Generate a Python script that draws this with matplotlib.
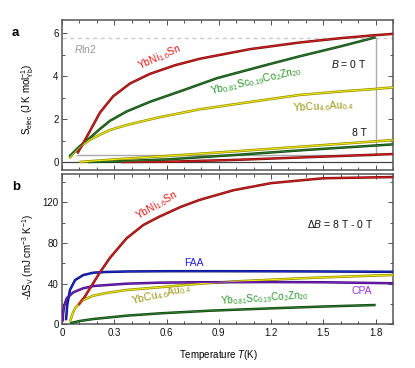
import matplotlib
matplotlib.use("Agg")
import matplotlib.pyplot as plt
from matplotlib.ticker import MultipleLocator, FuncFormatter

plt.rcParams['font.family'] = ['Liberation Sans', 'DejaVu Sans']
plt.rcParams['mathtext.fontset'] = 'custom'
plt.rcParams['mathtext.rm'] = 'Liberation Sans'
plt.rcParams['mathtext.it'] = 'Liberation Sans:italic'
plt.rcParams['mathtext.bf'] = 'Liberation Sans:bold'

# --- panel a: electronic entropy, B = 0 T ---
t_ni_0 = [0.088, 0.12, 0.161, 0.218, 0.293, 0.39, 0.505, 0.649, 0.79, 1.08, 1.366, 1.6, 1.8, 1.9]
s_ni_0 = [0.40, 0.85, 1.45, 2.3, 3.05, 3.65, 4.1, 4.5, 4.8, 5.25, 5.56, 5.76, 5.9, 5.96]
t_sc_0 = [0.042, 0.07, 0.10, 0.157, 0.22, 0.276, 0.371, 0.505, 0.70, 0.89, 1.19, 1.366, 1.6, 1.8]
s_sc_0 = [0.25, 0.48, 0.72, 1.1, 1.55, 1.92, 2.35, 2.8, 3.35, 3.9, 4.55, 4.92, 5.38, 5.8]
t_cu_0 = [0.042, 0.07, 0.10, 0.157, 0.22, 0.276, 0.371, 0.505, 0.559, 0.79, 1.19, 1.366, 1.6, 1.8, 1.9]
s_cu_0 = [0.17, 0.45, 0.68, 1.02, 1.28, 1.49, 1.72, 1.98, 2.08, 2.45, 2.92, 3.12, 3.28, 3.4, 3.47]

# --- panel a: B = 8 T ---
t_cu_8 = [0.1, 0.3, 0.6, 1.0, 1.4, 1.9]
s_cu_8 = [0.0, 0.12, 0.28, 0.5, 0.73, 1.02]
t_sc_8 = [0.15, 0.35, 0.6, 1.0, 1.4, 1.9]
s_sc_8 = [0.0, 0.04, 0.12, 0.33, 0.56, 0.82]
t_ni_8 = [0.34, 0.6, 1.0, 1.4, 1.9]
s_ni_8 = [0.0, 0.01, 0.1, 0.22, 0.37]

rln2 = 8.314 * 0.6931
t_bracket = [0.085, 1.8, 1.8]
s_bracket = [0.33, 0.33, 5.78]

# --- panel b: -dS_V for dB = 8 T - 0 T ---
t_ni_b = [0.094, 0.13, 0.161, 0.218, 0.276, 0.371, 0.467, 0.559, 0.68, 0.79, 0.984, 1.2, 1.5, 1.9]
ds_ni_b = [19, 27, 35.5, 51.2, 65.6, 84.7, 97.8, 106, 115.5, 122.5, 132, 139, 143.8, 145]
t_faa = [0.023, 0.03, 0.046, 0.075, 0.122, 0.18, 0.25, 0.37, 0.6, 0.9, 1.2, 1.5, 1.9]
ds_faa = [4, 19, 34, 43.5, 48.5, 50.8, 51.5, 52, 52.3, 52.3, 52.2, 52, 51.7]
t_cpa = [0.003, 0.006, 0.012, 0.027, 0.065, 0.122, 0.18, 0.37, 0.56, 0.79, 1.2, 1.5, 1.9]
ds_cpa = [2.6, 10, 18, 25.6, 31.5, 35.5, 37.7, 40, 41, 41.4, 41.6, 41.4, 40.4]
t_cu_b = [0.046, 0.06, 0.075, 0.1, 0.122, 0.18, 0.26, 0.371, 0.563, 0.79, 1.0, 1.37, 1.6, 1.9]
ds_cu_b = [2.6, 10, 15.8, 20.5, 24, 28.2, 31, 33.8, 36.5, 40, 42.3, 45.3, 46.8, 48.6]
t_sc_b = [0.046, 0.1, 0.18, 0.371, 0.563, 0.85, 1.2, 1.5, 1.8]
ds_sc_b = [1, 3.2, 5.2, 8.5, 10.8, 13.4, 15.7, 17.5, 19]

RED = ('#7a0c0c', '#d42020')
GRN = ('#0e420e', '#2b7a2b')
YEL = ('#8c8a00', '#f2ea10')
BLU = ('#0a0f70', '#1a2ad0')
PUR = ('#3a0a6a', '#7a22cc')


def duo(ax, t, y, cols, lw=1.8):
    """两层描边曲线：暗色外边 + 亮色内芯。"""
    ax.plot(t, y, color=cols[0], lw=lw, solid_capstyle='butt', zorder=3)
    ax.plot(t, y, color=cols[1], lw=lw * 0.45, solid_capstyle='butt', zorder=4)


def style(ax):
    for sp in ax.spines.values():
        sp.set_color('#555555')
        sp.set_linewidth(1.1)
    ax.tick_params(which='both', direction='in', top=True, right=True,
                   labelsize=7, colors='#333333', labelcolor='#111111', width=0.6)
    ax.tick_params(which='major', length=3.5, pad=2.5)
    ax.tick_params(which='minor', length=2)
    ax.set_xlim(0, 1.9)
    ax.xaxis.set_major_locator(MultipleLocator(0.3))
    ax.xaxis.set_minor_locator(MultipleLocator(0.1))


fig = plt.figure(figsize=(4.15, 3.68), dpi=100)
W, H = 415.0, 368.0
axa = fig.add_axes([62 / W, 1 - 170 / H, 331 / W, 150 / H])
axb = fig.add_axes([62 / W, 1 - 324.3 / H, 331 / W, 150.3 / H])

# panel a
style(axa)
axa.set_ylim(-0.372, 6.605)
axa.yaxis.set_major_locator(MultipleLocator(2))
axa.yaxis.set_minor_locator(MultipleLocator(1))
axa.tick_params(labelbottom=False)
axa.axhline(rln2, color='#cccccc', lw=1, ls=(0, (3, 2.5)), zorder=1)
axa.axhline(0, color='#444444', lw=0.9, zorder=2)
axa.plot(t_bracket, s_bracket, color='#aaaaaa', lw=1, zorder=2)
duo(axa, t_ni_8, s_ni_8, RED)
duo(axa, t_sc_8, s_sc_8, GRN)
duo(axa, t_cu_8, s_cu_8, YEL)
duo(axa, t_cu_0, s_cu_0, YEL)
duo(axa, t_sc_0, s_sc_0, GRN)
duo(axa, t_ni_0, s_ni_0, RED)
axa.set_ylabel(r'S$_{\rm elec}$ (J K mol$^{-1}_{\rm Yb}$)', fontsize=7)
axa.yaxis.set_label_coords(-0.078, 0.47)

axa.text(0.132, 5.26, r'$R$ln2', color='#999999', fontsize=7.5, ha='center', va='center')
axa.text(0.56, 4.9, r'YbNi$_{1.6}$Sn', color='#e81818', fontsize=7.5,
         ha='center', va='center', rotation=24)
axa.text(1.114, 3.8, r'Yb$_{0.81}$Sc$_{0.19}$Co$_2$Zn$_{20}$', color='#2a962a', fontsize=7.5,
         ha='center', va='center', rotation=13)
axa.text(1.498, 2.56, r'YbCu$_{4.6}$Au$_{0.4}$', color='#9a9410', fontsize=7.5,
         ha='center', va='center', rotation=3)
axa.text(1.648, 4.56, r'$B$ = 0 T', color='#111111', fontsize=7.5, ha='center', va='center')
axa.text(1.705, 1.35, '8 T', color='#111111', fontsize=7.5, ha='center', va='center')

# panel b
style(axb)
axb.set_ylim(0, 148)
axb.yaxis.set_major_locator(MultipleLocator(40))
axb.yaxis.set_minor_locator(MultipleLocator(20))
axb.xaxis.set_major_formatter(FuncFormatter(lambda v, p: '0' if abs(v) < 1e-9 else '%.1f' % v))
duo(axb, t_sc_b, ds_sc_b, GRN)
duo(axb, t_cu_b, ds_cu_b, YEL)
duo(axb, t_cpa, ds_cpa, PUR)
duo(axb, t_faa, ds_faa, BLU)
duo(axb, t_ni_b, ds_ni_b, RED)
axb.set_ylabel(r'-$\Delta$S$_{\rm V}$ (mJ cm$^{-3}$ K$^{-1}$)', fontsize=7)
axb.yaxis.set_label_coords(-0.078, 0.45)
axb.set_xlabel(r'Temperature $T$(K)', fontsize=7)
axb.xaxis.set_label_coords(0.473, -0.155)

axb.text(0.544, 117, r'YbNi$_{1.6}$Sn', color='#e81818', fontsize=7.5,
         ha='center', va='center', rotation=30)
axb.text(0.758, 60.4, 'FAA', color='#2020e0', fontsize=7.5, ha='center', va='center')
axb.text(0.57, 29.0, r'YbCu$_{4.6}$Au$_{0.4}$', color='#9a9410', fontsize=7.5,
         ha='center', va='center', rotation=13)
axb.text(1.596, 98.8, r'$\Delta B$ = 8 T - 0 T', color='#111111', fontsize=7.5,
         ha='center', va='center')
axb.text(1.722, 32.8, 'CPA', color='#9a30e0', fontsize=7.5, ha='center', va='center')
axb.text(1.165, 25.9, r'Yb$_{0.81}$Sc$_{0.19}$Co$_2$Zn$_{20}$', color='#2a962a', fontsize=7,
         ha='center', va='center', rotation=4)

fig.text(15.5 / W, 1 - 33.5 / H, 'a', fontsize=9.5, fontweight='bold', ha='center', va='center')
fig.text(16 / W, 1 - 187 / H, 'b', fontsize=9.5, fontweight='bold', ha='center', va='center')

fig.savefig('out.png', dpi=100)
